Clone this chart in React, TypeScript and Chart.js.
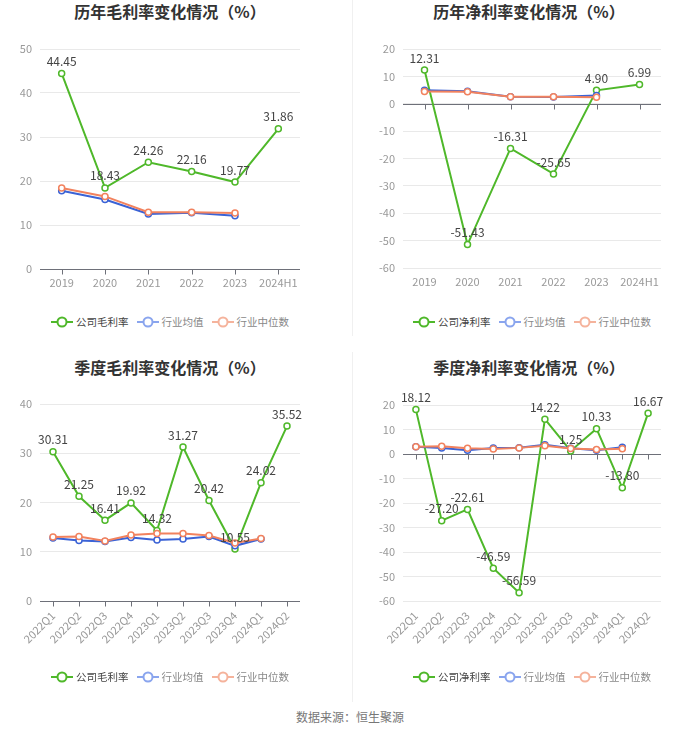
import React, { useEffect, useRef } from "react";
import { Chart, registerables } from "chart.js";

Chart.register(...registerables);

const annualLabels = ["2019", "2020", "2021", "2022", "2023", "2024H1"];
const annualGross = [44.45, 18.43, 24.26, 22.16, 19.77, 31.86];
const annualGrossAvg = [17.8, 15.8, 12.5, 12.8, 12.1, null];
const annualGrossMedian = [18.4, 16.5, 12.9, 12.9, 12.7, null];
const annualNet = [12.31, -51.43, -16.31, -25.65, 4.9, 6.99];
const annualNetAvg = [4.9, 4.6, 2.6, 2.5, 3.0, null];
const annualNetMedian = [4.5, 4.4, 2.6, 2.6, 2.4, null];

const quarterLabels = ["2022Q1", "2022Q2", "2022Q3", "2022Q4", "2023Q1", "2023Q2", "2023Q3", "2023Q4", "2024Q1", "2024Q2"];
const quarterGross = [30.31, 21.25, 16.41, 19.92, 14.32, 31.27, 20.42, 10.55, 24.02, 35.52];
const quarterGrossAvg = [12.8, 12.3, 12.1, 12.9, 12.4, 12.6, 13.1, 11.2, 12.6, null];
const quarterGrossMedian = [13.0, 13.1, 12.2, 13.4, 13.7, 13.7, 13.3, 11.8, 12.7, null];
const quarterNet = [18.12, -27.2, -22.61, -46.59, -56.59, 14.22, 1.25, 10.33, -13.8, 16.67];
const quarterNetAvg = [3.0, 2.4, 1.5, 2.4, 2.6, 3.8, 2.3, 1.5, 2.8, null];
const quarterNetMedian = [3.0, 3.2, 2.3, 2.0, 2.5, 3.4, 2.2, 1.8, 2.1, null];

const FONT = '"Noto Sans CJK SC", "Noto Sans", sans-serif';
const GREEN = "#4fb82a";
const BLUE = "#3b63d6";
const ORANGE = "#f2825e";
const BLUE_LIGHT = "#8aa5ee";
const ORANGE_LIGHT = "#f5b39c";

const axisPlugin = {
  id: "zeroAxis",
  beforeDatasetsDraw(chart: any) {
    const { ctx, chartArea, scales } = chart;
    const y0 = scales.y.getPixelForValue(0);
    ctx.save();
    ctx.strokeStyle = "#6e7079";
    ctx.lineWidth = 1;
    ctx.beginPath();
    ctx.moveTo(chartArea.left, Math.round(y0) + 0.5);
    ctx.lineTo(chartArea.right, Math.round(y0) + 0.5);
    const n = scales.x.ticks.length;
    for (let i = 0; i < n; i++) {
      const x = Math.round(scales.x.getPixelForTick(i)) + 0.5;
      ctx.moveTo(x, Math.round(y0) + 0.5);
      ctx.lineTo(x, Math.round(y0) + 5.5);
    }
    ctx.stroke();
    ctx.restore();
  },
};

const labelPlugin = {
  id: "valueLabels",
  afterDatasetsDraw(chart: any) {
    const { ctx } = chart;
    const meta = chart.getDatasetMeta(0);
    const data = chart.data.datasets[0].data;
    ctx.save();
    ctx.font = `12px ${FONT}`;
    ctx.fillStyle = "#444";
    ctx.textAlign = "center";
    ctx.textBaseline = "middle";
    meta.data.forEach((pt: any, i: number) => {
      const v = data[i];
      if (v === null || v === undefined) return;
      ctx.fillText(Number(v).toFixed(2), pt.x, pt.y - 12);
    });
    ctx.restore();
  },
};

type PanelProps = {
  left: number;
  top: number;
  width: number;
  height: number;
  labels: string[];
  main: number[];
  avg: (number | null)[];
  median: (number | null)[];
  min: number;
  max: number;
  pad: { left: number; top: number; right: number; bottom: number };
  yWidth: number;
  xHeight: number;
  rotate: boolean;
};

function Panel(p: PanelProps) {
  const ref = useRef<HTMLCanvasElement | null>(null);
  useEffect(() => {
    if (!ref.current) return;
    const pointCommon = {
      pointRadius: 3,
      pointHoverRadius: 3,
      pointBorderWidth: 1.5,
      pointBackgroundColor: "#fff",
      borderWidth: 2,
      tension: 0,
    };
    const chart = new Chart(ref.current, {
      type: "line",
      data: {
        labels: p.labels,
        datasets: [
          { data: p.main, borderColor: GREEN, pointBorderColor: GREEN, order: 2, ...pointCommon },
          { data: p.avg, borderColor: BLUE, pointBorderColor: BLUE, order: 1, ...pointCommon },
          { data: p.median, borderColor: ORANGE, pointBorderColor: ORANGE, order: 0, ...pointCommon },
        ],
      },
      options: {
        responsive: false,
        animation: false,
        layout: { padding: p.pad },
        plugins: { legend: { display: false }, tooltip: { enabled: false }, title: { display: false } },
        scales: {
          x: {
            type: "category",
            offset: true,
            grid: { display: false, drawTicks: false },
            border: { display: false },
            ticks: {
              color: "#999",
              font: { size: 11, family: FONT },
              padding: p.rotate ? 8 : 7,
              autoSkip: false,
              minRotation: p.rotate ? 45 : 0,
              maxRotation: p.rotate ? 45 : 0,
            },
            afterFit: (s: any) => {
              s.height = p.xHeight;
            },
          },
          y: {
            min: p.min,
            max: p.max,
            grid: { color: "#e9e9e9", drawTicks: false, lineWidth: 1 },
            border: { display: false },
            ticks: { stepSize: 10, color: "#999", font: { size: 11, family: FONT }, padding: 8 },
            afterFit: (s: any) => {
              s.width = p.yWidth;
            },
          },
        },
      } as any,
      plugins: [axisPlugin, labelPlugin],
    });
    return () => chart.destroy();
  }, []);
  return (
    <canvas
      ref={ref}
      width={p.width}
      height={p.height}
      style={{ position: "absolute", left: p.left, top: p.top, width: p.width, height: p.height }}
    />
  );
}

function Icon({ color }: { color: string }) {
  return (
    <svg width={22} height={14} style={{ display: "block" }}>
      <line x1={0} y1={7} x2={22} y2={7} stroke={color} strokeWidth={2} />
      <circle cx={11} cy={7} r={4.5} fill="#fff" stroke={color} strokeWidth={2} />
    </svg>
  );
}

function Legend({ cx, top, first }: { cx: number; top: number; first: string }) {
  const items = [
    { c: GREEN, t: first, col: "#444" },
    { c: BLUE_LIGHT, t: "行业均值", col: "#888" },
    { c: ORANGE_LIGHT, t: "行业中位数", col: "#888" },
  ];
  return (
    <div
      style={{
        position: "absolute",
        left: cx - 200,
        top: top - 8,
        width: 400,
        height: 16,
        display: "flex",
        justifyContent: "center",
        alignItems: "center",
        gap: 8,
        fontFamily: FONT,
        fontSize: 10.5,
      }}
    >
      {items.map((it) => (
        <div key={it.t} style={{ display: "flex", alignItems: "center", gap: 3 }}>
          <Icon color={it.c} />
          <span style={{ color: it.col, lineHeight: "16px" }}>{it.t}</span>
        </div>
      ))}
    </div>
  );
}

function Title({ cx, top, text }: { cx: number; top: number; text: string }) {
  return (
    <div
      style={{
        position: "absolute",
        left: cx - 200,
        top: top - 11,
        width: 400,
        height: 22,
        lineHeight: "22px",
        textAlign: "center",
        fontFamily: FONT,
        fontWeight: "bold",
        fontSize: 16,
        color: "#333",
      }}
    >
      {text}
    </div>
  );
}

export default function App() {
  return (
    <div
      style={{
        position: "fixed",
        left: 0,
        top: 0,
        width: 700,
        height: 734,
        background: "#fff",
        overflow: "hidden",
      }}
    >
      <div style={{ position: "absolute", left: 352, top: 0, width: 1, height: 336, background: "#f0f0f0" }} />
      <div style={{ position: "absolute", left: 352, top: 352, width: 1, height: 350, background: "#f0f0f0" }} />

      <Title cx={170} top={11} text="历年毛利率变化情况（%）" />
      <Title cx={529} top={11} text="历年净利率变化情况（%）" />
      <Title cx={170} top={367} text="季度毛利率变化情况（%）" />
      <Title cx={529} top={367} text="季度净利率变化情况（%）" />

      <Panel
        left={0}
        top={30}
        width={350}
        height={270}
        labels={annualLabels}
        main={annualGross}
        avg={annualGrossAvg}
        median={annualGrossMedian}
        min={0}
        max={50}
        pad={{ left: 0, top: 19, right: 50, bottom: 0 }}
        yWidth={40}
        xHeight={31}
        rotate={false}
      />
      <Panel
        left={350}
        top={30}
        width={350}
        height={270}
        labels={annualLabels}
        main={annualNet}
        avg={annualNetAvg}
        median={annualNetMedian}
        min={-60}
        max={20}
        pad={{ left: 0, top: 19, right: 39, bottom: 0 }}
        yWidth={53}
        xHeight={32}
        rotate={false}
      />
      <Panel
        left={0}
        top={385}
        width={350}
        height={290}
        labels={quarterLabels}
        main={quarterGross}
        avg={quarterGrossAvg}
        median={quarterGrossMedian}
        min={0}
        max={40}
        pad={{ left: 0, top: 19, right: 50, bottom: 0 }}
        yWidth={40}
        xHeight={74}
        rotate={true}
      />
      <Panel
        left={350}
        top={385}
        width={350}
        height={290}
        labels={quarterLabels}
        main={quarterNet}
        avg={quarterNetAvg}
        median={quarterNetMedian}
        min={-60}
        max={20}
        pad={{ left: 0, top: 20, right: 39, bottom: 0 }}
        yWidth={53}
        xHeight={74}
        rotate={true}
      />

      <Legend cx={170} top={322} first="公司毛利率" />
      <Legend cx={532} top={322} first="公司净利率" />
      <Legend cx={170} top={677} first="公司毛利率" />
      <Legend cx={532} top={677} first="公司净利率" />

      <div
        style={{
          position: "absolute",
          left: 200,
          top: 708,
          width: 300,
          height: 18,
          lineHeight: "18px",
          textAlign: "center",
          fontFamily: FONT,
          fontSize: 12,
          color: "#777",
        }}
      >
        数据来源：恒生聚源
      </div>
    </div>
  );
}
